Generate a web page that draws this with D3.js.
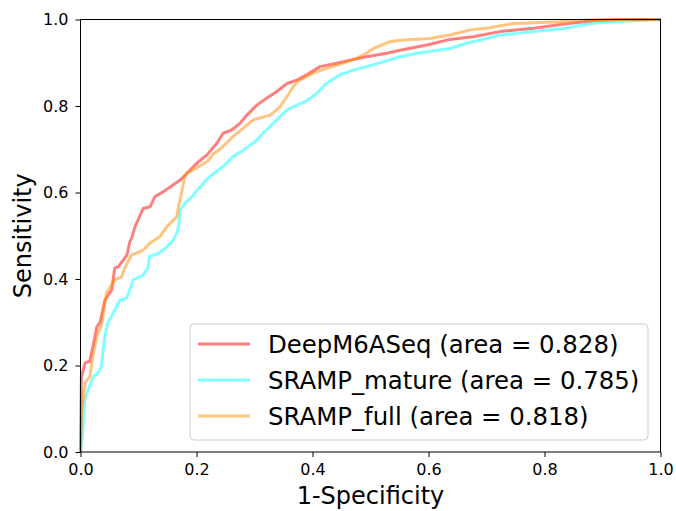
<!DOCTYPE html>
<html>
<head>
<meta charset="utf-8">
<script src="https://cdn.jsdelivr.net/npm/d3@7"></script>
<style>
  body { margin: 0; background: #fff; }
  text { font-family: "DejaVu Sans", sans-serif; fill: #000; }
</style>
</head>
<body>
<div id="chartContainer"></div>
<script>
// ROC points: [1-specificity, sensitivity]
const deepM6ASeq = [
    [0, 0], [0.001, 0.12], [0.0015, 0.173], [0.008, 0.206], [0.016, 0.21], [0.022, 0.247],
    [0.028, 0.289], [0.034, 0.301], [0.042, 0.351], [0.054, 0.375], [0.059, 0.425], [0.065, 0.428],
    [0.080, 0.455], [0.085, 0.486], [0.088, 0.494], [0.094, 0.521], [0.108, 0.563], [0.120, 0.567],
    [0.128, 0.590], [0.143, 0.602], [0.160, 0.618], [0.172, 0.629], [0.183, 0.644], [0.200, 0.667],
    [0.218, 0.687], [0.235, 0.714], [0.246, 0.737], [0.261, 0.745], [0.275, 0.760], [0.287, 0.779],
    [0.304, 0.802], [0.321, 0.818], [0.338, 0.833], [0.356, 0.852], [0.373, 0.860], [0.390, 0.872],
    [0.413, 0.891], [0.442, 0.899], [0.465, 0.906], [0.493, 0.914], [0.528, 0.922], [0.551, 0.929],
    [0.597, 0.941], [0.637, 0.954], [0.677, 0.960], [0.723, 0.972], [0.781, 0.980], [0.838, 0.990],
    [0.884, 0.997], [0.924, 1.0], [1, 1]
];

const srampMature = [
    [0, 0], [0.004, 0.051], [0.007, 0.120], [0.013, 0.143], [0.022, 0.174], [0.030, 0.182],
    [0.036, 0.197], [0.039, 0.236], [0.042, 0.267], [0.047, 0.298], [0.053, 0.313], [0.059, 0.328],
    [0.068, 0.351], [0.079, 0.355], [0.085, 0.375], [0.091, 0.398], [0.108, 0.409], [0.116, 0.425],
    [0.119, 0.452], [0.134, 0.459], [0.142, 0.467], [0.149, 0.475], [0.160, 0.490], [0.166, 0.506],
    [0.169, 0.521], [0.172, 0.560], [0.180, 0.575], [0.192, 0.590], [0.206, 0.613], [0.223, 0.637],
    [0.246, 0.660], [0.263, 0.683], [0.281, 0.698], [0.304, 0.721], [0.315, 0.737], [0.332, 0.760],
    [0.356, 0.791], [0.373, 0.802], [0.390, 0.812], [0.407, 0.829], [0.424, 0.852], [0.447, 0.872],
    [0.470, 0.883], [0.493, 0.891], [0.522, 0.902], [0.551, 0.914], [0.580, 0.922], [0.637, 0.933],
    [0.666, 0.945], [0.700, 0.956], [0.723, 0.964], [0.781, 0.972], [0.838, 0.980], [0.867, 0.988],
    [0.896, 0.993], [0.953, 0.997], [0.987, 0.999], [1, 1]
];

const srampFull = [
    [0, 0], [0.002, 0.097], [0.008, 0.159], [0.016, 0.174], [0.022, 0.228], [0.028, 0.267],
    [0.037, 0.298], [0.042, 0.344], [0.045, 0.367], [0.059, 0.398], [0.071, 0.405], [0.077, 0.428],
    [0.088, 0.455], [0.108, 0.467], [0.120, 0.483], [0.137, 0.498], [0.149, 0.521], [0.157, 0.532],
    [0.166, 0.544], [0.169, 0.567], [0.174, 0.598], [0.180, 0.637], [0.183, 0.644], [0.200, 0.657],
    [0.218, 0.671], [0.229, 0.689], [0.241, 0.701], [0.263, 0.729], [0.298, 0.768], [0.327, 0.779],
    [0.344, 0.798], [0.356, 0.822], [0.367, 0.845], [0.378, 0.860], [0.401, 0.876], [0.424, 0.887],
    [0.453, 0.899], [0.476, 0.910], [0.488, 0.918], [0.505, 0.933], [0.534, 0.949], [0.562, 0.953],
    [0.603, 0.956], [0.637, 0.964], [0.672, 0.976], [0.706, 0.981], [0.746, 0.991], [0.827, 0.995],
    [0.873, 0.999], [1, 1]
];

const seriesNames = ["DeepM6ASeq (area = 0.828)", "SRAMP_mature (area = 0.785)", "SRAMP_full (area = 0.818)"];
const seriesColors = ["red", "aqua", "darkorange"];
const tickValues = [0, 0.2, 0.4, 0.6, 0.8, 1.0];

const series = [deepM6ASeq, srampMature, srampFull];

const margin = {top: 19.5, right: 15.5, bottom: 59, left: 80.5};
const width = 676 - margin.left - margin.right;
const height = 511 - margin.top - margin.bottom;

const svg = d3.select("#chartContainer")
    .append("svg")
    .attr("width", 676)
    .attr("height", 511)
    .append("g")
    .attr("transform", `translate(${margin.left}, ${margin.top})`);

const xScale = d3.scaleLinear().domain([0, 1]).range([0, width]);
const yScale = d3.scaleLinear().domain([0, 1]).range([height, 0]);

const line = d3.line()
    .x(d => xScale(d[0]))
    .y(d => yScale(d[1]));

// Curves
series.forEach((s, i) => {
    svg.append("path")
        .datum(s)
        .attr("fill", "none")
        .attr("stroke", seriesColors[i])
        .attr("stroke-opacity", 0.5)
        .attr("stroke-width", 3)
        .attr("stroke-linejoin", "round")
        .attr("d", line);
});

// Axes
const xAxis = d3.axisBottom(xScale).tickValues(tickValues).tickFormat(d3.format(".1f")).tickSizeOuter(0).tickSize(5).tickPadding(7);
const yAxis = d3.axisLeft(yScale).tickValues(tickValues).tickFormat(d3.format(".1f")).tickSizeOuter(0).tickSize(5).tickPadding(7);

const gx = svg.append("g")
    .attr("transform", `translate(0,${height})`)
    .call(xAxis);
const gy = svg.append("g").call(yAxis);

[gx, gy].forEach(g => {
    g.select(".domain").remove();
    g.selectAll(".tick line").attr("stroke", "#000").attr("stroke-width", 1);
    g.selectAll(".tick text").style("font-family", "DejaVu Sans").style("font-size", "16px").attr("fill", "#000");
});

// Frame
svg.append("rect")
    .attr("width", width)
    .attr("height", height)
    .attr("fill", "none")
    .attr("stroke", "#000")
    .attr("stroke-width", 1);

// Axis labels
svg.append("text")
    .attr("x", width / 2)
    .attr("y", 504 - margin.top)
    .attr("text-anchor", "middle")
    .style("font-size", "24px")
    .text("1-Specificity");

svg.append("text")
    .attr("transform", `translate(${31 - margin.left},${height / 2}) rotate(-90)`)
    .attr("text-anchor", "middle")
    .style("font-size", "24px")
    .text("Sensitivity");

// Legend
const legend = svg.append("g")
    .attr("transform", `translate(${190 - margin.left},${324 - margin.top})`);

legend.append("rect")
    .attr("width", 458)
    .attr("height", 116)
    .attr("rx", 4)
    .attr("fill", "#fff")
    .attr("fill-opacity", 0.8)
    .attr("stroke", "#ccc")
    .attr("stroke-width", 1);

seriesNames.forEach((name, i) => {
    const yPos = 20 + i * 36;
    legend.append("line")
        .attr("x1", 8).attr("x2", 60)
        .attr("y1", yPos).attr("y2", yPos)
        .attr("stroke", seriesColors[i])
        .attr("stroke-opacity", 0.5)
        .attr("stroke-width", 3);
    legend.append("text")
        .attr("x", 78)
        .attr("y", yPos + 8.8)
        .style("font-size", "24.4px")
        .text(name);
});
</script>
</body>
</html>
